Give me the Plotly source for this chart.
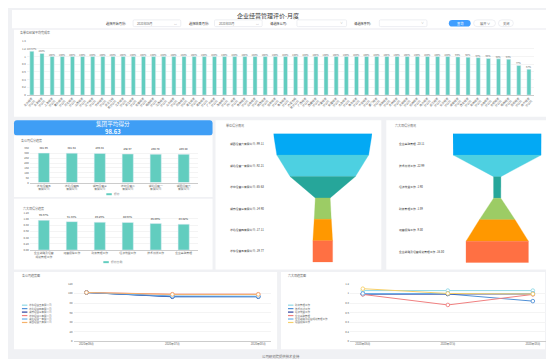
import plotly.graph_objects as go

FONT = "Noto Sans CJK SC, Noto Sans, sans-serif"
W, H = 554, 359

# ---------------- data ----------------
unit_names = [
    "北京经营分公司", "天津经营分公司", "上海经营分公司", "重庆经营分公司", "河北经营分公司",
    "山西经营分公司", "辽宁经营分公司", "吉林经营分公司", "黑龙江经营分公司", "江苏经营分公司",
    "浙江经营分公司", "安徽经营分公司", "福建经营分公司", "江西经营分公司", "山东经营分公司",
    "河南经营分公司", "湖北经营分公司", "湖南经营分公司", "广东经营分公司", "海南经营分公司",
    "四川经营分公司", "贵州经营分公司", "云南经营分公司", "陕西经营分公司", "甘肃经营分公司",
    "青海经营分公司", "内蒙古经营分公司", "广西经营分公司", "西藏经营分公司", "宁夏经营分公司",
    "新疆经营分公司", "大连经营分公司", "青岛经营分公司", "宁波经营分公司", "厦门经营分公司",
    "深圳经营分公司", "苏州经营分公司", "无锡经营分公司", "杭州经营分公司", "南京经营分公司",
    "武汉经营分公司", "长沙经营分公司", "成都经营分公司", "西安经营分公司", "郑州经营分公司",
    "济南经营分公司", "合肥经营分公司", "福州经营分公司", "昆明经营分公司", "南宁经营分公司",
]
unit_rates = [
    1.1367, 1.08, 1.00, 1.00, 1.00, 1.00, 1.00, 1.00, 1.00, 1.00,
    1.00, 1.00, 1.00, 1.00, 1.00, 1.00, 1.00, 1.00, 1.00, 1.00,
    1.00, 1.00, 1.00, 1.00, 1.00, 1.00, 1.00, 1.00, 1.00, 1.00,
    1.00, 1.00, 1.00, 1.00, 1.00, 1.00, 1.00, 1.00, 1.00, 1.00,
    1.00, 1.00, 0.99, 0.98, 0.97, 0.95, 0.94, 0.93, 0.77, 0.67,
]

group_avg = 98.63
companies = ["华东经营五有限公司", "华北经营四有限公司", "湖南经营三有限公司",
             "华中经营二有限公司", "湖北经营一有限公司", "湖西经营六有限公司"]
company_scores = [301.96, 301.54, 299.34, 292.97, 290.70, 289.40]

items = ["企业战略及经营规划管理工作", "运营保障工作", "财务管理工作",
         "经济效益工作", "技术创新工作", "企业基础管理"]
item_ratios = [0.9567, 0.9133, 0.8926, 0.8863, 0.8509, 0.8302]

funnel_units = ["湖西经营六有限公司", "湖北经营一有限公司", "华中经营二有限公司",
                "湖南经营三有限公司", "华北经营四有限公司", "华东经营五有限公司"]
funnel_unit_scores = [99.11, 92.21, 65.63, 14.90, 17.11, 19.77]

funnel_items = ["企业基础管理", "技术创新工作", "经济效益工作",
                "财务管理工作", "运营保障工作", "企业战略及经营规划管理工作"]
funnel_item_scores = [23.11, 22.99, 1.90, 1.89, 9.30, 16.30]

months = ["2020年06月", "2020年07月", "2020年08月"]
company_trend = [
    [102, 94, 94],
    [102, 93, 93],
    [102, 93.5, 93.5],
    [102, 98.5, 98.5],
    [102, 94.5, 94],
    [102, 98, 98],
]
trend_items = ["财务管理工作", "技术创新工作", "经济效益工作",
               "企业基础管理", "企业战略及经营规划管理工作", "运营保障工作"]
item_trend = [
    [1.06, 1.06, 1.06],
    [0.99, 0.99, 0.84],
    [0.99, 0.99, 0.99],
    [0.98, 0.76, 0.98],
    [1.00, 1.00, 1.00],
    [1.10, 1.00, 0.99],
]

# ---------------- styles ----------------
TEAL = "#62cdbf"
FUNNEL_COLORS = ["#03a9f4", "#4dd0e1", "#26a69a", "#9ccc65", "#ff9800", "#ff7043"]
LINE_COLORS_L = ["#8fd8e6", "#4f8fd6", "#2b3f9e", "#f08080", "#6aaee8", "#f6b26b"]
LINE_COLORS_R = ["#8fd8e6", "#4f8fd6", "#2b3f9e", "#f08080", "#6aaee8", "#f6d06a"]
TXT = "#333333"
SUB = "#666666"


def X(px):
    return px / W


def Y(py):
    return 1 - py / H


def xdom(a, b):
    return [X(a), X(b)]


def ydom(top, bottom):
    return [Y(bottom), Y(top)]


def wrap(s, n):
    return "<br>".join(s[i:i + n] for i in range(0, len(s), n))


shapes = []
annotations = []


def rect(x0, y0, x1, y1, fill="white", line=None, lw=0):
    shapes.append(dict(type="rect", xref="paper", yref="paper",
                       x0=X(x0), x1=X(x1), y0=Y(y1), y1=Y(y0),
                       fillcolor=fill, line=dict(width=lw, color=line or fill),
                       layer="below"))


def rrect(x0, y0, x1, y1, r, fill="white", line=None, lw=0):
    p = (f"M {X(x0 + r)},{Y(y0)} L {X(x1 - r)},{Y(y0)} Q {X(x1)},{Y(y0)} {X(x1)},{Y(y0 + r)} "
         f"L {X(x1)},{Y(y1 - r)} Q {X(x1)},{Y(y1)} {X(x1 - r)},{Y(y1)} "
         f"L {X(x0 + r)},{Y(y1)} Q {X(x0)},{Y(y1)} {X(x0)},{Y(y1 - r)} "
         f"L {X(x0)},{Y(y0 + r)} Q {X(x0)},{Y(y0)} {X(x0 + r)},{Y(y0)} Z")
    shapes.append(dict(type="path", xref="paper", yref="paper", path=p,
                       fillcolor=fill, line=dict(width=lw, color=line or fill),
                       layer="below"))


def chevron(cx, cy, up=False, s=1.6):
    d = -s / 2 if up else s / 2
    p = f"M {X(cx - s)},{Y(cy - d)} L {X(cx)},{Y(cy + d)} L {X(cx + s)},{Y(cy - d)}"
    shapes.append(dict(type="path", xref="paper", yref="paper", path=p,
                       line=dict(width=0.8, color="#555555")))


def txt(x, y, s, size=3.0, color=TXT, xanchor="left", yanchor="middle", bold=False):
    if bold:
        s = f"<b>{s}</b>"
    annotations.append(dict(x=X(x), y=Y(y), xref="paper", yref="paper", text=s,
                            showarrow=False, font=dict(size=size, color=color, family=FONT),
                            xanchor=xanchor, yanchor=yanchor, borderpad=0))


# ---------------- page frame ----------------
rect(0, 0, 541, 18.5, "white")                 # header
rect(2, 20, 540, 108, "white")                 # top chart card
rrect(2, 111.5, 202, 127, 3, "#3f9ef5")        # banner
rect(2, 127, 202, 189, "white")                # company score card
rect(2, 191, 202, 262.5, "white")              # item score card
rect(205, 111.5, 372, 262.5, "white")          # unit funnel card
rect(377, 111.5, 541, 262.5, "white")          # item funnel card
rect(2, 265, 267, 343, "white")                # company trend card
rect(271, 265, 537, 343, "white")              # item trend card

# scrollbars
for (y0, y1) in [(26, 98), (233, 239), (247, 303), (325, 345)]:
    rrect(544.5, y0, 550, y1, 1.5, "#c4c4c4")
for yy in [178, 193, 228, 322, 351]:
    chevron(547, yy)
chevron(547.5, 22.5, up=True)

# header title + filters
txt(258, 5.5, "企业经营管理评价-月度", size=6.0, color="#3a3a3a", xanchor="center")
txt(94, 13.3, "选择开始月份:", size=3.2)
rrect(122, 10, 170, 16.8, 1.2, "white", "#dcdfe6", 0.5)
txt(125, 13.3, "2020年06月", size=2.9, color=SUB)
txt(165, 13.3, "▭", size=3.2, color="#aaa", xanchor="center")
txt(177, 13.3, "选择结束月份:", size=3.2)
rrect(204, 10, 252, 16.8, 1.2, "white", "#dcdfe6", 0.5)
txt(207, 13.3, "2020年08月", size=2.9, color=SUB)
txt(247, 13.3, "▭", size=3.2, color="#aaa", xanchor="center")
txt(259, 13.3, "请选择公司:", size=3.2)
rrect(287, 10, 337, 16.8, 1.2, "white", "#dcdfe6", 0.5)
txt(332, 13.3, "∨", size=3, color="#aaa", xanchor="center")
txt(343, 13.3, "请选择序列:", size=3.2)
rrect(370, 10, 418, 16.8, 1.2, "white", "#dcdfe6", 0.5)
txt(413, 13.3, "∨", size=3, color="#aaa", xanchor="center")
rrect(440, 10, 462, 16.8, 3.4, "#409eff")
txt(451, 13.3, "查询", size=3.2, color="white", xanchor="center")
rrect(465, 10, 487, 16.8, 3.4, "white", "#dcdfe6", 0.5)
txt(476, 13.3, "展开 ∨", size=3.2, color=SUB, xanchor="center")
rrect(490, 10, 505, 16.8, 3.4, "white", "#dcdfe6", 0.5)
txt(497.5, 13.3, "关闭", size=3.2, color=SUB, xanchor="center")

# titles
txt(7, 22.8, "各单位经营平均完成率", size=3.0, color=SUB)
txt(102, 115.5, "集团平均得分", size=5.6, color="white", xanchor="center")
txt(102, 123, f"{group_avg:.2f}", size=5.8, color="white", xanchor="center", bold=True)
txt(8, 131.5, "各公司得分趋势", size=3.0, color=SUB)
txt(10, 200.5, "六大项得分趋势", size=3.0, color=SUB)
txt(215, 116.8, "单位得分情况", size=3.0, color=SUB)
txt(385, 116.3, "六大项得分情况", size=3.0, color=SUB)
txt(9, 268.3, "各公司趋势图", size=3.0, color=SUB)
txt(277, 268.3, "六大项趋势图", size=3.0, color=SUB)
txt(271, 350.5, "公司研究院提供技术支持", size=3.4, color=SUB, xanchor="center")

# bar legends
rect(95, 185.3, 100.5, 187.3, TEAL)
txt(102, 186.3, "得分", size=2.8, color=SUB)
rect(92, 254, 97.5, 256, TEAL)
txt(99, 255, "得分比例", size=2.8, color=SUB)

# ---------------- traces ----------------
data = []
tick_font = dict(size=2.8, color=SUB, family=FONT)

data.append(go.Bar(
    x=unit_names, y=unit_rates, xaxis="x", yaxis="y", marker_color=TEAL,
    text=[f"{round(v * 100, 2):g}%" for v in unit_rates], textposition="outside",
    textfont=dict(size=2.4, color=SUB, family=FONT), constraintext="none",
    cliponaxis=False, hoverinfo="skip", showlegend=False))

data.append(go.Bar(
    x=companies, y=company_scores, xaxis="x2", yaxis="y2", marker_color=TEAL,
    text=[f"{v:.2f}" for v in company_scores], textposition="outside",
    textfont=dict(size=2.7, color=TXT, family=FONT), constraintext="none",
    cliponaxis=False, hoverinfo="skip", showlegend=False))

data.append(go.Bar(
    x=items, y=item_ratios, xaxis="x3", yaxis="y3", marker_color=TEAL,
    text=[f"{v * 100:.2f}%" for v in item_ratios], textposition="outside",
    textfont=dict(size=2.7, color=TXT, family=FONT), constraintext="none",
    cliponaxis=False, hoverinfo="skip", showlegend=False))


def funnel(values, names, xa, ya, label_x):
    n = len(values)
    for i in range(n):
        w0 = values[i]
        w1 = values[i + 1] if i + 1 < n else values[i]
        data.append(go.Scatter(
            x=[-w0 / 2, w0 / 2, w1 / 2, -w1 / 2, -w0 / 2],
            y=[i, i, i + 1, i + 1, i],
            xaxis=xa, yaxis=ya, mode="lines", fill="toself",
            fillcolor=FUNNEL_COLORS[i], line=dict(width=0.3, color=FUNNEL_COLORS[i]),
            hoverinfo="skip", showlegend=False))
        annotations.append(dict(
            x=X(label_x), y=i + 0.5, xref="paper", yref=ya, showarrow=False,
            text=f"{names[i]} -{values[i]:.2f}", xanchor="left", yanchor="middle",
            font=dict(size=2.8, color=TXT, family=FONT)))


funnel(funnel_unit_scores, funnel_units, "x6", "y6", 218)
funnel(funnel_item_scores, funnel_items, "x7", "y7", 388)

for i, vals in enumerate(company_trend):
    data.append(go.Scatter(
        x=months, y=vals, xaxis="x4", yaxis="y4", mode="lines+markers",
        line=dict(color=LINE_COLORS_L[i], width=1),
        marker=dict(symbol="circle", size=3.6, color="white",
                    line=dict(color=LINE_COLORS_L[i], width=0.9)),
        hoverinfo="skip", showlegend=False, cliponaxis=False))

for i, vals in enumerate(item_trend):
    filled = (i == 2)
    data.append(go.Scatter(
        x=months, y=vals, xaxis="x5", yaxis="y5", mode="lines+markers",
        line=dict(color=LINE_COLORS_R[i], width=1),
        marker=dict(symbol="circle", size=3.6,
                    color=LINE_COLORS_R[i] if filled else "white",
                    line=dict(color=LINE_COLORS_R[i], width=0.9)),
        hoverinfo="skip", showlegend=False, cliponaxis=False))

# manual legends for the line charts
for i, nm in enumerate(companies):
    yy = 298.5 + i * 3.5
    shapes.append(dict(type="line", xref="paper", yref="paper",
                       x0=X(10), x1=X(15.5), y0=Y(yy), y1=Y(yy),
                       line=dict(color=LINE_COLORS_L[i], width=1.2)))
    txt(16.5, yy, nm, size=2.5, color=SUB)
for i, nm in enumerate(trend_items):
    yy = 298.5 + i * 3.5
    shapes.append(dict(type="line", xref="paper", yref="paper",
                       x0=X(278), x1=X(283.5), y0=Y(yy), y1=Y(yy),
                       line=dict(color=LINE_COLORS_R[i], width=1.2)))
    txt(284.5, yy, nm, size=2.5, color=SUB)

# ---------------- axes ----------------
def cat_x(dom, anchor, ticktext=None, tickvals=None, angle=0):
    d = dict(domain=dom, anchor=anchor, type="category", showgrid=False,
             showline=True, linecolor="#cccccc", linewidth=0.6, ticks="",
             tickfont=tick_font, tickangle=angle, zeroline=False, fixedrange=True)
    if ticktext is not None:
        d.update(tickmode="array", tickvals=tickvals, ticktext=ticktext)
    return d


def val_y(dom, anchor, rng, dtick, fmt=None):
    d = dict(domain=dom, anchor=anchor, range=rng, dtick=dtick, showgrid=True,
             gridcolor="#f4f4f4", gridwidth=0.5, zeroline=False, showline=False,
             ticks="", tickfont=tick_font, fixedrange=True)
    if fmt:
        d["tickformat"] = fmt
    return d


layout = dict(
    width=W, height=H, margin=dict(l=0, r=0, t=0, b=0),
    paper_bgcolor="#f0f1f4", plot_bgcolor="rgba(0,0,0,0)",
    font=dict(family=FONT, size=3, color=SUB),
    showlegend=False, bargap=0.6,
    xaxis=cat_x(xdom(14.9, 525.8), "y", [wrap(n, 4) for n in unit_names], unit_names, -45),
    yaxis=val_y(ydom(31.5, 86), "x", [0, 1.4], 0.2),
    xaxis2=cat_x(xdom(18, 187), "y2", [wrap(n, 5) for n in companies], companies),
    yaxis2=val_y(ydom(140, 174.5), "x2", [0, 350], 50),
    xaxis3=cat_x(xdom(18, 187), "y3", [wrap(n, 7) for n in items], items),
    yaxis3=val_y(ydom(205, 242.7), "x3", [0, 1.2], 0.2, ".2f"),
    xaxis4=cat_x(xdom(62, 261), "y4"),
    yaxis4=val_y(ydom(277, 335), "x4", [0, 120], 20),
    xaxis5=cat_x(xdom(340.5, 537.5), "y5"),
    yaxis5=val_y(ydom(277, 335), "x5", [0, 1.2], 0.2),
    xaxis6=dict(domain=xdom(263.3, 362.7), anchor="y6", visible=False,
                range=[-max(funnel_unit_scores) / 2, max(funnel_unit_scores) / 2], fixedrange=True),
    yaxis6=dict(domain=ydom(125, 255), anchor="x6", visible=False, range=[6, 0], fixedrange=True),
    xaxis7=dict(domain=xdom(444.2, 533.3), anchor="y7", visible=False,
                range=[-max(funnel_item_scores) / 2, max(funnel_item_scores) / 2], fixedrange=True),
    yaxis7=dict(domain=ydom(125, 255.5), anchor="x7", visible=False, range=[6, 0], fixedrange=True),
    shapes=shapes, annotations=annotations,
)

fig = go.Figure(data=data, layout=layout)
fig.write_html("out.html")
